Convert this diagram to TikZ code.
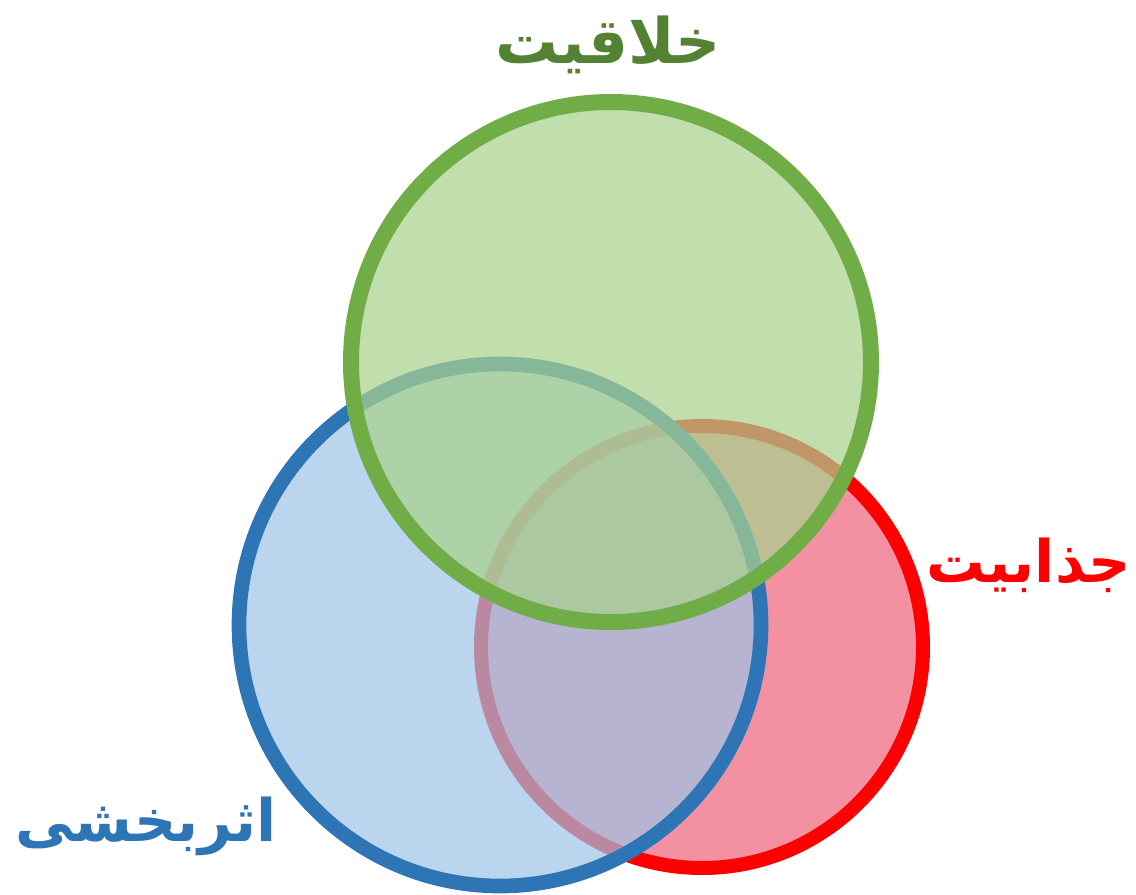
\documentclass[tikz,border=0pt]{standalone}
\usepackage{fontspec}
\usepackage{tikz}
\TeXXeTstate=1
\newfontfamily\persianfont[Script=Arabic]{DejaVu Sans}
\definecolor{vngreen}{RGB}{112,173,71}
\definecolor{vngreenfill}{RGB}{169,209,142}
\definecolor{vngreentext}{RGB}{84,130,53}
\definecolor{vnblue}{RGB}{46,117,182}
\definecolor{vnbluefill}{RGB}{157,195,230}
\definecolor{vnred}{RGB}{255,0,0}
\definecolor{vnredfill}{RGB}{243,145,162}

\begin{document}
\begin{tikzpicture}[x=0.75pt, y=-0.75pt]
                \useasboundingbox (0,0) rectangle (1136,894);
                % Circles, bottom to top
                \draw[line width=10.5pt, draw=vnred, fill=vnredfill] (702,647) circle[radius=221];
                \draw[line width=11pt, draw=vnblue, fill=vnbluefill, fill opacity=0.7] (500,625) circle[radius=261];
                \draw[line width=12pt, draw=vngreen, fill=vngreenfill, fill opacity=0.72] (611,362) circle[radius=260];
                % Labels
                \node[vngreentext, font=\persianfont\bfseries\fontsize{47}{56}\selectfont] (creative) at (608,45) {\beginR خلاقیت\endR};
                \node[vnred, font=\persianfont\bfseries\fontsize{44}{52}\selectfont] (attract) at (1029,565) {\beginR جذابیت\endR};
                \node[vnblue, font=\persianfont\bfseries\fontsize{44}{52}\selectfont] (effect) at (146,826) {\beginR اثربخشی\endR};
            \end{tikzpicture}
\end{document}
